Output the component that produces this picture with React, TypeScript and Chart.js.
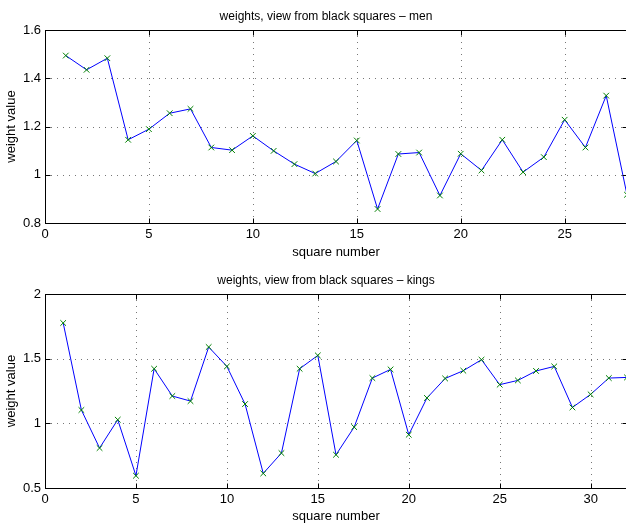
import React, { useEffect, useRef } from "react";
import { Chart, registerables } from "chart.js";

Chart.register(...registerables);

// ---- data ----
const squareNumbers = [
  1, 2, 3, 4, 5, 6, 7, 8, 9, 10, 11, 12, 13, 14, 15, 16,
  17, 18, 19, 20, 21, 22, 23, 24, 25, 26, 27, 28, 29, 30, 31, 32,
];
const menWeights = [
  1.494, 1.435, 1.483, 1.145, 1.189, 1.255, 1.273, 1.113, 1.102, 1.161,
  1.099, 1.044, 1.005, 1.055, 1.142, 0.858, 1.086, 1.092, 0.914, 1.087,
  1.018, 1.145, 1.011, 1.073, 1.228, 1.113, 1.328, 0.917,
];
const kingsWeights = [
  1.776, 1.103, 0.809, 1.028, 0.595, 1.422, 1.211, 1.172, 1.59, 1.44,
  1.149, 0.613, 0.77, 1.422, 1.525, 0.757, 0.971, 1.35, 1.417, 0.912,
  1.196, 1.347, 1.407, 1.492, 1.299, 1.332, 1.405, 1.44, 1.123, 1.224,
  1.35, 1.355,
];
const menTitle = "weights, view from black squares – men";
const kingsTitle = "weights, view from black squares – kings";
const xAxisTitle = "square number";
const yAxisTitle = "weight value";
const menXRange = [0, 28];
const menYRange = [0.8, 1.6];
const menYStep = 0.2;
const kingsXRange = [0, 32];
const kingsYRange = [0.5, 2];
const kingsYStep = 0.5;
const xTickStep = 5;

const FONT = "'Liberation Sans', Arial, Helvetica, sans-serif";
const CANVAS_W = 652;

const fmt = (v: any) => String(Math.round(Number(v) * 1000) / 1000);

type PanelProps = {
  title: string;
  values: number[];
  xRange: number[];
  yRange: number[];
  yStep: number;
  height: number;
  padTop: number;
  axisH: number;
  titleY: number;
  top: number;
};

function Panel(p: PanelProps) {
  const ref = useRef<HTMLCanvasElement | null>(null);
  useEffect(() => {
    const canvas = ref.current;
    if (!canvas) return;
    const points = p.values.map((v, i) => ({ x: squareNumbers[i], y: v }));

    const framePlugin = {
      id: "matlabFrame",
      beforeDatasetsDraw(chart: any) {
        const { ctx, chartArea: a, scales } = chart;
        const xs = scales.x;
        const ys = scales.y;
        ctx.save();
        ctx.strokeStyle = "#777";
        ctx.lineWidth = 1;
        ctx.setLineDash([1, 5]);
        xs.ticks.forEach((t: any) => {
          if (t.value <= xs.min || t.value >= xs.max) return;
          const px = Math.round(xs.getPixelForValue(t.value)) + 0.5;
          ctx.beginPath();
          ctx.moveTo(px, a.top);
          ctx.lineTo(px, a.bottom);
          ctx.stroke();
        });
        ys.ticks.forEach((t: any) => {
          if (t.value <= ys.min + 1e-9 || t.value >= ys.max - 1e-9) return;
          const py = Math.round(ys.getPixelForValue(t.value)) + 0.5;
          ctx.beginPath();
          ctx.moveTo(a.left, py);
          ctx.lineTo(a.right, py);
          ctx.stroke();
        });
        ctx.restore();
      },
      afterDatasetsDraw(chart: any) {
        const { ctx, chartArea: a, scales } = chart;
        const xs = scales.x;
        const ys = scales.y;
        const L = Math.round(a.left) + 0.5;
        const R = Math.round(a.right) + 0.5;
        const T = Math.round(a.top) + 0.5;
        const B = Math.round(a.bottom) + 0.5;
        const tl = 5;
        ctx.save();
        ctx.strokeStyle = "#000";
        ctx.lineWidth = 1;
        ctx.setLineDash([]);
        ctx.strokeRect(L, T, R - L, B - T);
        ctx.beginPath();
        xs.ticks.forEach((t: any) => {
          const px = Math.round(xs.getPixelForValue(t.value)) + 0.5;
          ctx.moveTo(px, B);
          ctx.lineTo(px, B - tl);
          ctx.moveTo(px, T);
          ctx.lineTo(px, T + tl);
        });
        ys.ticks.forEach((t: any) => {
          const py = Math.round(ys.getPixelForValue(t.value)) + 0.5;
          ctx.moveTo(L, py);
          ctx.lineTo(L + tl, py);
          ctx.moveTo(R, py);
          ctx.lineTo(R - tl, py);
        });
        ctx.stroke();
        // title
        ctx.fillStyle = "#000";
        ctx.font = `12px ${FONT}`;
        ctx.textAlign = "center";
        ctx.textBaseline = "middle";
        ctx.fillText(p.title, CANVAS_W / 2, p.titleY);
        ctx.restore();
      },
    };

    const chart = new Chart(canvas, {
      type: "line",
      data: {
        datasets: [
          {
            data: points,
            borderColor: "#0000ff",
            borderWidth: 1,
            pointStyle: "crossRot",
            pointRadius: 4,
            pointBorderColor: "#008000",
            pointBorderWidth: 1,
            pointBackgroundColor: "#008000",
            pointHoverRadius: 4,
            tension: 0,
            clip: false as any,
          },
        ],
      },
      options: {
        responsive: false,
        maintainAspectRatio: false,
        animation: false,
        events: [],
        layout: { padding: { top: p.padTop, right: 25, left: 0, bottom: 0 } },
        plugins: {
          legend: { display: false },
          title: { display: false },
          tooltip: { enabled: false },
        },
        scales: {
          x: {
            type: "linear",
            min: p.xRange[0],
            max: p.xRange[1],
            grid: { display: false, drawTicks: false },
            border: { display: false },
            ticks: {
              stepSize: xTickStep,
              color: "#000",
              font: { family: FONT, size: 13 },
              padding: 4,
              maxRotation: 0,
              autoSkip: false,
              callback: fmt,
            },
            afterBuildTicks: (scale: any) => {
              scale.ticks = scale.ticks.filter(
                (t: any) => Math.abs(t.value % xTickStep) < 1e-9
              );
            },
            afterFit: (scale: any) => {
              scale.height = p.axisH;
            },
            title: {
              display: true,
              text: xAxisTitle,
              color: "#000",
              font: { family: FONT, size: 13 },
              padding: { top: 0, bottom: 3 },
            },
          },
          y: {
            type: "linear",
            min: p.yRange[0],
            max: p.yRange[1],
            grid: { display: false, drawTicks: false },
            border: { display: false },
            ticks: {
              stepSize: p.yStep,
              color: "#000",
              font: { family: FONT, size: 13 },
              padding: 4,
              autoSkip: false,
              callback: fmt,
            },
            afterFit: (scale: any) => {
              scale.width = 45;
            },
            title: {
              display: true,
              text: yAxisTitle,
              color: "#000",
              font: { family: FONT, size: 13 },
              padding: { top: 4, bottom: 0 },
            },
          },
        },
      },
      plugins: [framePlugin],
    } as any);
    return () => chart.destroy();
  }, []);

  return (
    <canvas
      ref={ref}
      width={CANVAS_W}
      height={p.height}
      style={{
        position: "absolute",
        left: 0,
        top: p.top,
        width: CANVAS_W,
        height: p.height,
      }}
    />
  );
}

export default function App() {
  return (
    <div
      style={{
        position: "absolute",
        left: 0,
        top: 0,
        width: 626,
        height: 527,
        overflow: "hidden",
        background: "#fff",
      }}
    >
      <Panel
        title={menTitle}
        values={menWeights}
        xRange={menXRange}
        yRange={menYRange}
        yStep={menYStep}
        height={263}
        padTop={30}
        axisH={40}
        titleY={17}
        top={0}
      />
      <Panel
        title={kingsTitle}
        values={kingsWeights}
        xRange={kingsXRange}
        yRange={kingsYRange}
        yStep={kingsYStep}
        height={264}
        padTop={31}
        axisH={39}
        titleY={18}
        top={263}
      />
    </div>
  );
}
